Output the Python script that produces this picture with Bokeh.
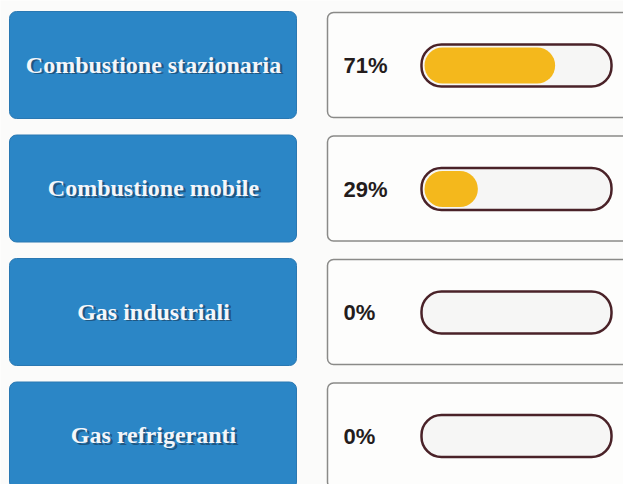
from bokeh.plotting import figure
from bokeh.models import Range1d, ColumnDataSource
from bokeh.core.properties import value
from bokeh.embed import file_html
from bokeh.resources import INLINE

categories = ["Combustione stazionaria", "Combustione mobile", "Gas industriali", "Gas refrigeranti"]
percentages = [71, 29, 0, 0]
labels = [f"{v}%" for v in percentages]

# layout (reference pixel coordinates)
ROW0, STEP = 11, 123.5
tops = [ROW0 + i * STEP for i in range(len(categories))]
BAR_X0, BAR_X1 = 421, 611
FILL_X0, FILL_W = 424, 184

src = ColumnDataSource(dict(
    cat=categories,
    lab=labels,
    top=tops,
    bottom=[t + 107 for t in tops],
    wtop=[t + 1 for t in tops],
    wbottom=[t + 106 for t in tops],
    ctxt=[t + 53 for t in tops],
    cbar=[t + 54 for t in tops],
    btop=[t + 33 for t in tops],
    bbot=[t + 75 for t in tops],
    ftop=[t + 36 for t in tops],
    fbot=[t + 72 for t in tops],
    fright=[FILL_X0 + v / 100 * FILL_W for v in percentages],
))

p = figure(width=623, height=484, output_backend="svg", toolbar_location=None,
           x_range=Range1d(0, 623), y_range=Range1d(484, 0),
           min_border=0, background_fill_color="#fbfbfa", border_fill_color="#fbfbfa")
p.axis.visible = False
p.grid.visible = False
p.outline_line_color = None

# blue category boxes
p.quad(left=9, right=296, top="top", bottom="bottom", source=src,
       fill_color="#2b86c6", line_color="#2a78b2", line_width=1, border_radius=7)
# white value panels
p.quad(left=327, right=650, top="wtop", bottom="wbottom", source=src,
       fill_color="#fdfdfc", line_color="#8a8a88", line_width=1.5, border_radius=6)
# progress track
p.quad(left=BAR_X0, right=BAR_X1, top="btop", bottom="bbot", source=src,
       fill_color="#f6f6f5", line_color="#4a2228", line_width=2.5, border_radius=20)
# progress fill
p.quad(left=FILL_X0, right="fright", top="ftop", bottom="fbot", source=src,
       fill_color="#f4b81c", line_color=None, border_radius=18)

# category labels with shadow
p.text(x=154.5, y="ctxt", text="cat", source=src, x_offset=1, y_offset=1.5,
       text_font=value("Liberation Serif"), text_font_style="bold", text_font_size="24px",
       text_color="#1c4a70", text_align="center", text_baseline="middle", text_alpha=0.8)
p.text(x=153, y="ctxt", text="cat", source=src,
       text_font=value("Liberation Serif"), text_font_style="bold", text_font_size="24px",
       text_color="#f4f6fa", text_align="center", text_baseline="middle")

# percentage labels
p.text(x=343, y="cbar", text="lab", source=src,
       text_font=value("Liberation Sans"), text_font_style="bold", text_font_size="22px",
       text_color="#241c1c", text_align="left", text_baseline="middle")

open("out.html", "w").write(file_html(p, INLINE))
